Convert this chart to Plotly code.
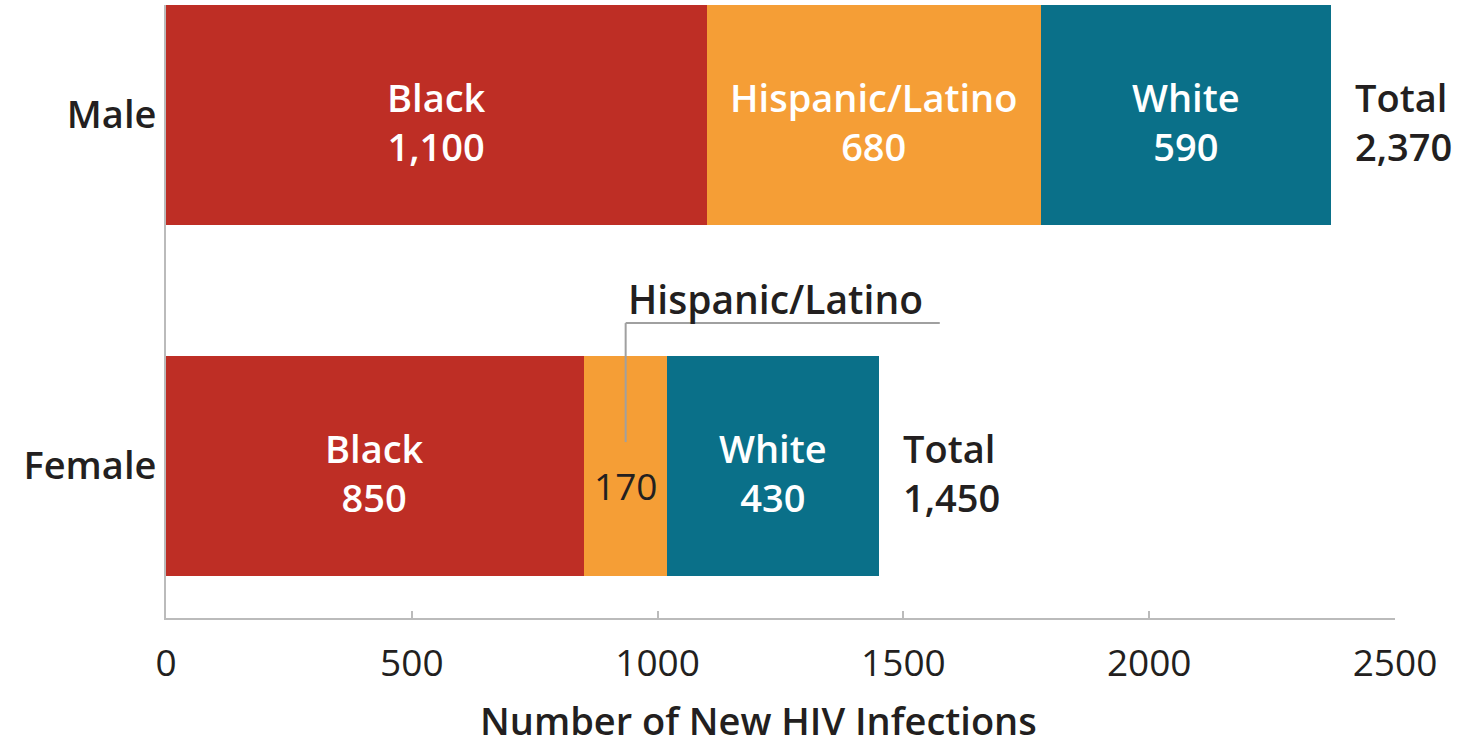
import plotly.graph_objects as go

# New HIV infections by sex and race/ethnicity
sexes = ["Female", "Male"]
groups = ["Black", "Hispanic/Latino", "White"]
black = [850, 1100]
hispanic = [170, 680]
white = [430, 590]
totals = [1450, 2370]
x_ticks = [0, 500, 1000, 1500, 2000, 2500]

colors = {"Black": "#BE2E25", "Hispanic/Latino": "#F59E36", "White": "#0A7089"}
series = {"Black": black, "Hispanic/Latino": hispanic, "White": white}

FONT = "Open Sans"
DARK = "#231F20"
SEMI = 600

fig = go.Figure()
for g in groups:
    fig.add_trace(go.Bar(
        y=sexes, x=series[g], orientation="h", name=g,
        marker=dict(color=colors[g], line=dict(width=0)),
        width=0.627, hoverinfo="skip",
    ))

annotations = []
for i, sex in enumerate(sexes):
    start = 0
    for g in groups:
        v = series[g][i]
        mid = start + v / 2
        if sex == "Female" and g == "Hispanic/Latino":
            # narrow segment: value inside, group name on a callout
            annotations.append(dict(
                x=mid, y=i, text=f"{v:,}", showarrow=False, yshift=-20,
                font=dict(family=FONT, size=37, color=DARK, weight=500),
            ))
        else:
            annotations.append(dict(
                x=mid, y=i, text=f"{g}<br>{v:,}", showarrow=False,
                yshift=-7, font=dict(family=FONT, size=38, color="white", weight=SEMI),
            ))
        start += v
    annotations.append(dict(
        x=totals[i], y=i, text=f"Total<br>{totals[i]:,}",
        showarrow=False, xanchor="left", xshift=22, align="left", yshift=-7,
        font=dict(family=FONT, size=38, color=DARK, weight=SEMI),
    ))

# callout for the female Hispanic/Latino segment
f_mid = black[0] + hispanic[0] / 2
annotations.append(dict(
    x=f_mid, y=0.407, text="Hispanic/Latino", showarrow=False,
    xanchor="left", yanchor="bottom", xshift=0, yshift=-4,
    font=dict(family=FONT, size=39, color=DARK, weight=SEMI),
))
shapes = [
    dict(type="line", x0=f_mid, x1=f_mid, y0=0.068, y1=0.407,
         line=dict(color="#A0A0A0", width=2)),
    dict(type="line", x0=f_mid, x1=1574, y0=0.407, y1=0.407,
         line=dict(color="#A0A0A0", width=2)),
]

# x-axis title, set slightly left of the plot centre
annotations.append(dict(
    xref="paper", yref="paper", x=0.482, y=0, yanchor="top", yshift=-74,
    text="Number of New HIV Infections", showarrow=False,
    font=dict(family=FONT, size=38, color=DARK, weight=SEMI),
))

fig.update_layout(
    width=1465, height=747,
    margin=dict(l=166, r=70, t=5, b=129),
    paper_bgcolor="white", plot_bgcolor="white",
    barmode="stack", showlegend=False,
    annotations=annotations, shapes=shapes,
    xaxis=dict(
        range=[0, 2500], tickvals=x_ticks, ticktext=[str(t) for t in x_ticks],
        showgrid=False, zeroline=False, showline=True, linecolor="#BBBBBB",
        linewidth=2, ticks="inside", ticklen=7, tickcolor="#BBBBBB", tickwidth=2,
        ticklabelstandoff=12,
        tickfont=dict(family=FONT, size=37, color=DARK),
    ),
    yaxis=dict(
        range=[-0.433, 1.313], showgrid=False, zeroline=False, showline=True,
        linecolor="#BBBBBB", linewidth=2, ticks="",
        tickvals=[0, 1], ticktext=["Female", "Male"],
        tickfont=dict(family=FONT, size=38, color=DARK, weight=SEMI),
    ),
)

fig.write_html("out.html")
